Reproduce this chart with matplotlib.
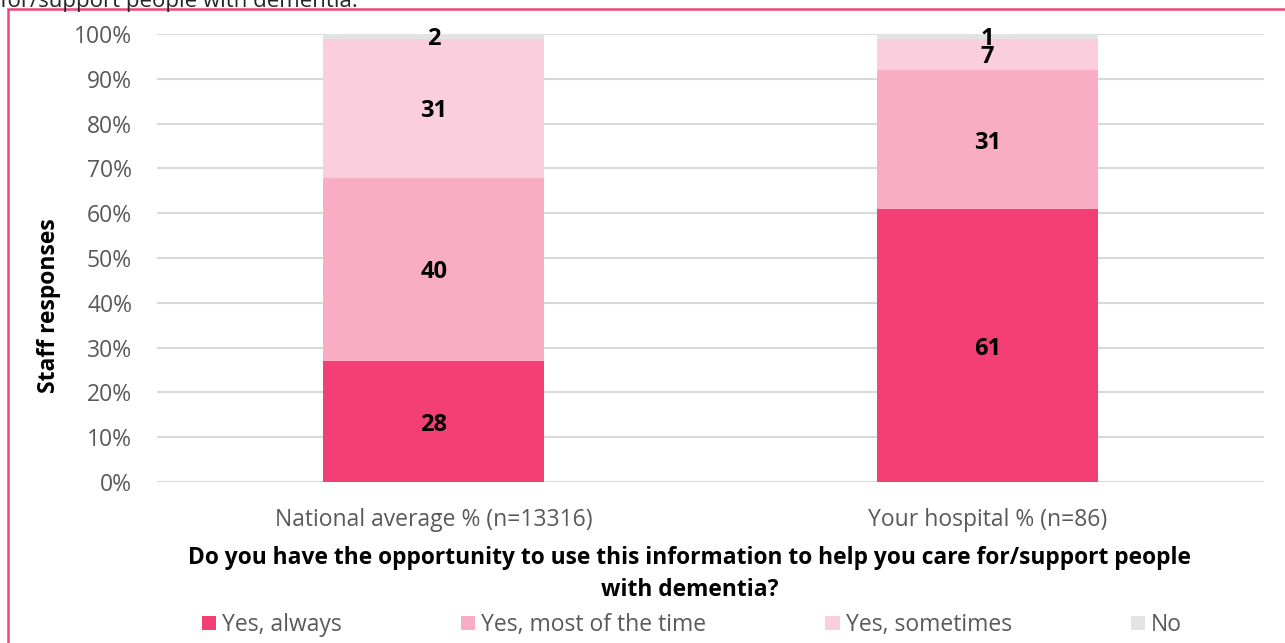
import matplotlib
matplotlib.use("Agg")
import matplotlib.pyplot as plt
from matplotlib.patches import Rectangle
from matplotlib.transforms import offset_copy
import numpy as np

plt.rcParams['font.family'] = ['Open Sans', 'DejaVu Sans']

categories = ["National average % (n=13316)", "Your hospital % (n=86)"]
series_names = ["Yes, always", "Yes, most of the time", "Yes, sometimes", "No"]
# bar heights (percent of responses)
yes_always = [27.0, 60.9]
yes_most = [40.9, 31.1]
yes_sometimes = [31.0, 6.9]
no = [1.1, 1.1]
# printed data labels
yes_always_labels = ["28", "61"]
yes_most_labels = ["40", "31"]
yes_sometimes_labels = ["31", "7"]
no_labels = ["2", "1"]
series = [yes_always, yes_most, yes_sometimes, no]
series_labels = [yes_always_labels, yes_most_labels, yes_sometimes_labels, no_labels]
colors = ["#F43F74", "#F8ADC4", "#FBCEDD", "#E3E3E3"]
yticks = [0, 10, 20, 30, 40, 50, 60, 70, 80, 90, 100]
ytick_labels = [f"{t}%" for t in yticks]
title_text = "Do you have the opportunity to use this information to help you care for/support people\nwith dementia?"
top_text = "for/support people with dementia."

W, H = 1285, 643
fig = plt.figure(figsize=(W / 100, H / 100), dpi=100)
ax = fig.add_axes([157 / W, 1 - 482 / H, (1264 - 157) / W, (482 - 34) / H])

label_tr = offset_copy(ax.transData, fig=fig, x=0, y=-3, units="dots")
x = np.arange(len(categories))
bottom = np.zeros(len(categories))
bars_all = []
for name, vals, labs, c in zip(series_names, series, series_labels, colors):
    bars = ax.bar(x, vals, width=0.4, bottom=bottom, color=c, label=name, zorder=2)
    for xi, v, b, lab in zip(x, vals, bottom, labs):
        ax.text(xi, b + v / 2, lab, ha="center", va="center", transform=label_tr,
                fontsize=17, fontweight="bold", color="black", zorder=3)
    bottom = bottom + np.array(vals)
    bars_all.append(bars)

ax.set_xlim(-0.5, 1.5)
ax.set_ylim(0, 100)
ax.set_yticks(yticks)
ax.set_yticklabels(ytick_labels)
ax.yaxis.grid(True, color="#D9D9D9", linewidth=1.5, zorder=0)
ax.set_axisbelow(True)
for s in ax.spines.values():
    s.set_visible(False)
ax.tick_params(axis="y", length=0, pad=18, labelsize=16.5, labelcolor="#595959")
ax.set_xticks(x)
ax.set_xticklabels(categories)
ax.tick_params(axis="x", length=0, pad=19, labelsize=16.5, labelcolor="#595959")

fig.text(49 / W, 1 - 306 / H, "Staff responses", rotation=90, ha="center", va="center",
         fontsize=16.5, fontweight="bold", color="black")
fig.text(690 / W, 1 - 574 / H, title_text, ha="center", va="center",
         fontsize=16.4, fontweight="bold", color="black", linespacing=1.5)

leg = fig.legend(handles=bars_all, labels=series_names, loc="center",
                 bbox_to_anchor=(692 / W, 1 - 625 / H), ncol=4, frameon=False,
                 fontsize=16.5, handlelength=0.62, handleheight=0.62, handletextpad=0.26,
                 columnspacing=5.2)
for t in leg.get_texts():
    t.set_color("#595959")

fig.text(0, 1 - 7 / H, top_text, ha="left", va="baseline", fontsize=16, color="#262626")

fig.patches.append(Rectangle((8 / W, -0.1), 1.2, 1.1 - 9 / H, transform=fig.transFigure,
                             fill=False, edgecolor="#F0457A", linewidth=1.8))

fig.savefig("out.png", dpi=100)
